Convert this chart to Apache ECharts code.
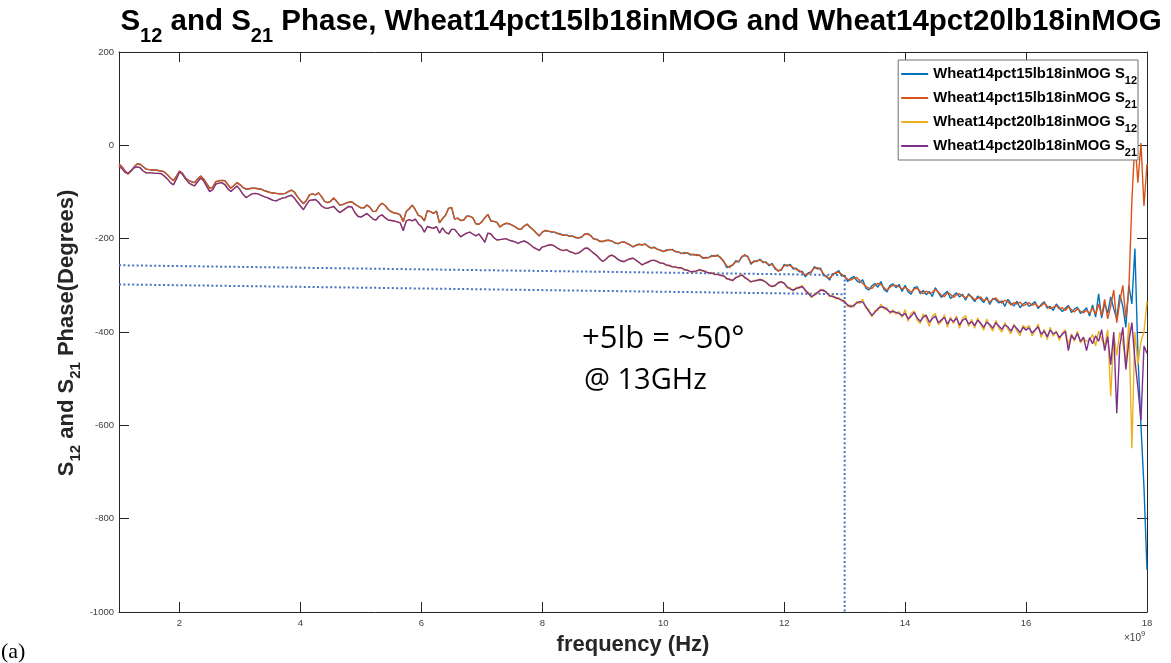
<!DOCTYPE html>
<html>
<head>
<meta charset="utf-8">
<script src="https://cdn.jsdelivr.net/npm/echarts@6/dist/echarts.min.js"></script>
<style>
  html, body { margin: 0; padding: 0; background: #fff; }
  #chart { width: 1171px; height: 663px; }
</style>
</head>
<body>
<div id="chart"></div>
<script>
// Sweep: 1 GHz to 18 GHz in 50 MHz steps (341 points)
const freqStartGHz = 1;
const freqStepGHz = 0.05;
const pointCount = 341;

// Phase (degrees), Wheat14pct15lb18inMOG, S12
const s12_15lb = [
  -40,-46,-55,-61,-55,-46,-40,-41,-46,-51,-52,-53,-53,-54,-55,-57,-63,-70,-75,-66,
  -55,-60,-70,-75,-78,-80,-72,-66,-72,-82,-91,-90,-78,-76,-75,-76,-84,-92,-86,-80,
  -84,-90,-94,-93,-92,-92,-93,-94,-97,-99,-101,-102,-103,-104,-104,-103,-99,-96,-100,-110,
  -118,-124,-118,-106,-104,-106,-102,-110,-120,-123,-120,-113,-120,-128,-127,-124,-122,-121,-126,-130,
  -134,-134,-128,-133,-142,-141,-130,-124,-129,-137,-142,-145,-146,-149,-163,-142,-136,-128,-138,-150,
  -153,-162,-140,-142,-146,-141,-166,-157,-150,-135,-133,-158,-156,-161,-160,-152,-152,-155,-168,-169,
  -164,-155,-148,-162,-163,-165,-175,-170,-167,-168,-171,-175,-179,-180,-173,-169,-176,-181,-188,-194,
  -186,-183,-184,-186,-186,-189,-190,-193,-192,-195,-194,-198,-198,-197,-190,-190,-193,-201,-201,-206,
  -206,-204,-204,-205,-209,-211,-208,-207,-210,-213,-218,-214,-212,-214,-211,-217,-220,-218,-223,-224,
  -228,-224,-224,-223,-228,-228,-232,-230,-231,-235,-233,-236,-235,-242,-240,-241,-236,-238,-235,-242,
  -248,-262,-259,-257,-247,-250,-238,-236,-238,-255,-248,-249,-244,-251,-250,-258,-253,-265,-268,-268,
  -255,-259,-255,-265,-263,-271,-270,-282,-273,-272,-260,-265,-263,-279,-280,-289,-275,-275,-268,-280,
  -279,-292,-285,-281,-290,-294,-288,-306,-310,-301,-296,-304,-292,-309,-314,-300,-297,-305,-298,-313,
  -300,-314,-319,-305,-303,-318,-311,-320,-313,-324,-305,-316,-326,-318,-313,-328,-322,-316,-325,-319,
  -332,-318,-326,-335,-323,-330,-337,-325,-341,-328,-331,-338,-333,-345,-330,-339,-344,-334,-348,-340,
  -336,-345,-340,-335,-350,-341,-335,-349,-345,-354,-340,-348,-356,-349,-343,-358,-351,-347,-360,-355,
  -348,-366,-342,-368,-318,-370,-338,-360,-325,-350,-372,-320,-345,-390,-300,-340,-221,-450,-600,-732,
  -910
];

// Phase (degrees), Wheat14pct15lb18inMOG, S21
const s21_15lb = [
  -40,-46,-55,-62,-55,-46,-40,-40,-46,-51,-52,-53,-53,-54,-55,-57,-63,-70,-76,-66,
  -55,-60,-70,-75,-78,-80,-72,-66,-72,-82,-92,-90,-78,-76,-75,-76,-84,-92,-86,-80,
  -84,-90,-94,-93,-92,-92,-93,-94,-97,-99,-101,-102,-103,-104,-104,-103,-99,-96,-100,-110,
  -118,-125,-118,-106,-104,-106,-102,-110,-120,-123,-120,-113,-120,-128,-127,-124,-122,-121,-126,-130,
  -134,-134,-128,-133,-142,-141,-130,-124,-129,-137,-142,-145,-146,-149,-164,-142,-136,-128,-138,-150,
  -153,-162,-140,-142,-146,-141,-166,-157,-150,-135,-133,-158,-156,-161,-160,-152,-152,-155,-168,-169,
  -164,-155,-148,-162,-163,-165,-175,-170,-167,-168,-171,-174,-179,-180,-173,-169,-175,-181,-188,-194,
  -186,-182,-184,-185,-186,-188,-191,-192,-193,-194,-195,-197,-199,-196,-191,-189,-194,-200,-202,-205,
  -206,-204,-203,-205,-209,-210,-208,-207,-210,-214,-217,-215,-212,-213,-212,-216,-220,-219,-222,-225,
  -227,-226,-223,-224,-227,-229,-231,-232,-230,-233,-235,-234,-236,-240,-242,-240,-238,-236,-237,-240,
  -250,-258,-262,-255,-250,-248,-240,-234,-240,-252,-250,-247,-246,-249,-252,-255,-256,-262,-270,-266,
  -258,-256,-258,-262,-266,-268,-273,-278,-276,-270,-263,-262,-266,-275,-283,-285,-278,-272,-272,-276,
  -282,-287,-289,-285,-283,-290,-296,-302,-306,-307,-300,-296,-298,-305,-310,-304,-300,-300,-303,-308,
  -304,-309,-315,-308,-306,-313,-318,-312,-317,-315,-309,-314,-321,-324,-316,-319,-326,-320,-318,-323,
  -327,-321,-324,-331,-328,-325,-333,-329,-336,-330,-327,-334,-338,-332,-335,-342,-337,-340,-336,-344,
  -341,-337,-343,-339,-346,-344,-338,-345,-350,-347,-343,-351,-348,-354,-346,-352,-357,-350,-355,-359,
  -353,-360,-348,-362,-340,-365,-330,-372,-345,-310,-380,-335,-300,-370,-310,-120,10,-80,5,-130,
  -40
];

// Phase (degrees), Wheat14pct20lb18inMOG, S12
const s12_20lb = [
  -44,-50,-58,-61,-54,-48,-46,-48,-55,-59,-59,-59,-60,-60,-61,-66,-72,-80,-84,-72,
  -57,-62,-72,-80,-84,-87,-78,-70,-76,-88,-98,-95,-83,-81,-80,-84,-93,-99,-93,-87,
  -95,-105,-112,-108,-104,-103,-104,-107,-110,-112,-115,-118,-119,-116,-113,-112,-109,-107,-113,-122,
  -130,-137,-127,-118,-117,-116,-122,-130,-134,-135,-133,-131,-138,-144,-140,-135,-131,-132,-144,-152,
  -154,-150,-146,-152,-158,-160,-152,-149,-155,-160,-161,-162,-164,-166,-182,-162,-159,-162,-158,-168,
  -174,-186,-174,-176,-178,-174,-188,-177,-186,-190,-180,-180,-188,-196,-192,-188,-186,-190,-194,-190,
  -198,-207,-188,-190,-198,-203,-202,-201,-200,-203,-205,-207,-210,-207,-205,-208,-212,-219,-221,-226,
  -217,-217,-213,-214,-215,-221,-223,-226,-223,-228,-229,-233,-230,-227,-220,-221,-225,-232,-235,-244,
  -248,-245,-237,-236,-238,-245,-247,-250,-245,-244,-241,-247,-250,-257,-252,-251,-246,-247,-248,-253,
  -252,-258,-256,-262,-259,-264,-261,-268,-266,-272,-269,-271,-265,-270,-269,-275,-272,-278,-275,-280,
  -278,-287,-286,-291,-282,-282,-276,-285,-286,-294,-289,-291,-286,-291,-292,-301,-301,-302,-293,-294,
  -294,-306,-305,-313,-304,-307,-300,-313,-315,-327,-318,-318,-308,-313,-313,-325,-321,-329,-326,-334,
  -332,-346,-342,-347,-334,-339,-330,-349,-352,-368,-354,-354,-340,-351,-348,-361,-352,-362,-356,-369,
  -352,-377,-360,-355,-375,-382,-361,-370,-388,-366,-360,-384,-378,-363,-390,-368,-382,-366,-392,-370,
  -365,-388,-373,-392,-370,-384,-396,-372,-388,-398,-375,-392,-400,-380,-394,-404,-383,-398,-408,-386,
  -392,-386,-408,-397,-383,-412,-394,-416,-390,-409,-398,-418,-402,-395,-428,-404,-420,-398,-424,-414,
  -420,-418,-405,-430,-398,-415,-430,-395,-538,-405,-450,-400,-420,-470,-380,-649,-400,-470,-420,-400,
  -335
];

// Phase (degrees), Wheat14pct20lb18inMOG, S21
const s21_20lb = [
  -44,-50,-58,-60,-54,-48,-46,-48,-55,-59,-59,-59,-60,-60,-61,-66,-72,-80,-85,-72,
  -57,-62,-72,-80,-84,-87,-78,-70,-76,-88,-99,-95,-83,-81,-80,-84,-93,-99,-93,-87,
  -95,-105,-112,-108,-104,-103,-104,-107,-110,-112,-115,-118,-119,-116,-113,-112,-109,-107,-113,-122,
  -130,-138,-127,-118,-117,-116,-122,-130,-134,-135,-133,-131,-138,-144,-140,-135,-131,-132,-144,-152,
  -154,-150,-146,-152,-158,-160,-152,-149,-155,-160,-161,-162,-164,-166,-183,-162,-159,-162,-158,-168,
  -174,-186,-174,-176,-178,-174,-188,-177,-186,-190,-180,-180,-188,-196,-192,-188,-186,-190,-194,-190,
  -198,-208,-188,-190,-198,-203,-202,-201,-200,-203,-205,-207,-210,-207,-205,-208,-213,-218,-222,-225,
  -218,-216,-214,-213,-216,-220,-224,-225,-224,-227,-230,-232,-231,-226,-221,-220,-226,-231,-236,-243,
  -249,-244,-238,-235,-239,-244,-248,-249,-246,-243,-242,-246,-251,-256,-253,-250,-247,-246,-249,-252,
  -253,-256,-258,-260,-261,-262,-263,-266,-268,-270,-271,-269,-267,-268,-271,-273,-274,-276,-277,-278,
  -280,-285,-288,-289,-284,-280,-278,-283,-288,-292,-291,-289,-288,-289,-294,-299,-303,-300,-295,-292,
  -296,-303,-308,-310,-307,-304,-303,-310,-318,-324,-321,-315,-311,-310,-316,-322,-324,-326,-329,-331,
  -336,-342,-346,-343,-338,-335,-336,-345,-356,-364,-358,-350,-346,-347,-352,-357,-356,-358,-360,-365,
  -360,-372,-366,-358,-370,-377,-368,-364,-379,-371,-366,-380,-374,-369,-383,-372,-378,-370,-385,-375,
  -371,-383,-378,-386,-375,-381,-390,-379,-384,-392,-380,-387,-394,-385,-389,-398,-386,-393,-401,-390,
  -396,-391,-402,-395,-389,-405,-398,-410,-396,-404,-400,-412,-405,-399,-440,-407,-416,-403,-420,-411,
  -440,-412,-425,-408,-420,-395,-440,-410,-470,-400,-574,-430,-390,-480,-420,-380,-460,-520,-589,-430,
  -446
];

// Dotted guide lines marking the phase shift at 13 GHz: [GHz, degrees]
const guide15lb = [[1, -257], [13, -278]];
const guide20lb = [[1, -298], [13, -319]];
const guide13GHz = [[13, -278], [13, -1000]];

const xTicks = [2, 4, 6, 8, 10, 12, 14, 16, 18];

const seriesNames = [
  'Wheat14pct15lb18inMOG S12',
  'Wheat14pct15lb18inMOG S21',
  'Wheat14pct20lb18inMOG S12',
  'Wheat14pct20lb18inMOG S21'
];
const seriesColors = ['#0072BD', '#D95319', '#EDB120', '#7E2F8E'];
const seriesValues = [s12_15lb, s21_15lb, s12_20lb, s21_20lb];

const freqGHz = [];
for (let i = 0; i < pointCount; i++) {
  freqGHz.push(+(freqStartGHz + freqStepGHz * i).toFixed(2));
}

const FONT = '"Liberation Sans", Arial, sans-serif';
const axisColor = '#262626';

function guideSeries(data) {
  return {
    type: 'line',
    data: data,
    symbol: 'none',
    silent: true,
    z: 1,
    lineStyle: { color: '#4472C4', width: 2, type: [2, 2.4] },
    animation: false
  };
}

const chart = echarts.init(document.getElementById('chart'), null, { renderer: 'canvas' });

const option = {
  backgroundColor: '#fff',
  animation: false,
  grid: { left: 119, right: 24, top: 52, bottom: 51, containLabel: false },
  legend: {
    data: seriesNames,
    orient: 'vertical',
    right: 33,
    top: 60,
    backgroundColor: '#fff',
    borderColor: '#707070',
    borderWidth: 1,
    borderRadius: 0,
    padding: [2, 1, 2, 3],
    itemGap: 0,
    itemWidth: 27,
    itemHeight: 2,
    icon: 'rect',
    z: 10,
    formatter: function (name) {
      const parts = name.split(' S');
      return '{n|' + parts[0] + ' S}{s|' + parts[1] + '}';
    },
    textStyle: {
      padding: [0, 0, 0, 0],
      rich: {
        n: { fontFamily: FONT, fontWeight: 'bold', fontSize: 14.8, color: '#000', lineHeight: 18 },
        s: { fontFamily: FONT, fontWeight: 'bold', fontSize: 11, color: '#000', lineHeight: 12, padding: [13, 0, 0, 0] }
      }
    }
  },
  xAxis: [
    {
      type: 'value', min: 1, max: 18, position: 'bottom',
      axisLine: { show: true, onZero: false, lineStyle: { color: axisColor, width: 1 } },
      axisTick: { show: true, inside: true, length: 10, customValues: xTicks, lineStyle: { color: axisColor } },
      axisLabel: { show: true, customValues: xTicks, margin: 6, fontFamily: FONT, fontSize: 9.5, color: '#404040' },
      splitLine: { show: false }
    },
    {
      type: 'value', min: 1, max: 18, position: 'top',
      axisLine: { show: true, onZero: false, lineStyle: { color: axisColor, width: 1 } },
      axisTick: { show: true, inside: true, length: 10, customValues: xTicks, lineStyle: { color: axisColor } },
      axisLabel: { show: false, customValues: xTicks },
      splitLine: { show: false }
    }
  ],
  yAxis: [
    {
      type: 'value', min: -1000, max: 200, interval: 200, position: 'left',
      axisLine: { show: true, onZero: false, lineStyle: { color: axisColor, width: 1 } },
      axisTick: { show: true, inside: true, length: 10, lineStyle: { color: axisColor } },
      axisLabel: {
        show: true, margin: 5, fontFamily: FONT, fontSize: 9.5, color: '#404040',
        formatter: function (v) { return String(v); }
      },
      splitLine: { show: false }
    },
    {
      type: 'value', min: -1000, max: 200, interval: 200, position: 'right',
      axisLine: { show: true, onZero: false, lineStyle: { color: axisColor, width: 1 } },
      axisTick: { show: true, inside: true, length: 10, lineStyle: { color: axisColor } },
      axisLabel: { show: false },
      splitLine: { show: false }
    }
  ],
  series: [
    guideSeries(guide15lb),
    guideSeries(guide20lb),
    guideSeries(guide13GHz)
  ].concat(seriesNames.map(function (name, k) {
    return {
      name: name,
      type: 'line',
      data: freqGHz.map(function (f, i) { return [f, seriesValues[k][i]]; }),
      symbol: 'none',
      showSymbol: false,
      sampling: null,
      z: 2 + k,
      color: seriesColors[k],
      lineStyle: { color: seriesColors[k], width: 1.4 },
      itemStyle: { color: seriesColors[k] }
    };
  })),
  graphic: [
    {
      type: 'text', x: 641, y: 22,
      style: {
        text: '{b|S}{s|12}{b| and S}{s|21}{b| Phase, Wheat14pct15lb18inMOG and Wheat14pct20lb18inMOG}',
        align: 'center', verticalAlign: 'middle',
        rich: {
          b: { fontFamily: FONT, fontWeight: 'bold', fontSize: 29.5, fill: '#000', lineHeight: 34 },
          s: { fontFamily: FONT, fontWeight: 'bold', fontSize: 20, fill: '#000', lineHeight: 22, padding: [28, 0, 0, 0] }
        }
      }
    },
    {
      type: 'text', x: 67, y: 333, rotation: Math.PI / 2,
      style: {
        text: '{b|S}{s|12}{b| and S}{s|21}{b| Phase(Degrees)}',
        align: 'center', verticalAlign: 'middle',
        rich: {
          b: { fontFamily: FONT, fontWeight: 'bold', fontSize: 22, fill: '#262626', lineHeight: 26 },
          s: { fontFamily: FONT, fontWeight: 'bold', fontSize: 15, fill: '#262626', lineHeight: 17, padding: [17, 0, 0, 0] }
        }
      }
    },
    {
      type: 'text', x: 633, y: 645,
      style: {
        text: 'frequency (Hz)', align: 'center', verticalAlign: 'middle',
        font: 'bold 22px ' + FONT, fill: '#262626'
      }
    },
    {
      type: 'text', x: 1124, y: 638,
      style: {
        text: '{a|×10}{p|9}', align: 'left', verticalAlign: 'middle',
        rich: {
          a: { fontFamily: FONT, fontSize: 10, fill: '#404040', lineHeight: 12 },
          p: { fontFamily: FONT, fontSize: 7.5, fill: '#404040', lineHeight: 9, padding: [0, 0, 9, 0] }
        }
      }
    },
    {
      type: 'text', x: 1, y: 652,
      style: {
        text: '(a)', align: 'left', verticalAlign: 'middle',
        font: '22px "Liberation Serif", "Times New Roman", serif', fill: '#000'
      }
    },
    {
      type: 'text', x: 582, y: 339,
      style: {
        text: '+5lb = ~50°', align: 'left', verticalAlign: 'middle',
        font: '31px "Open Sans", sans-serif', fill: '#000'
      }
    },
    {
      type: 'text', x: 584, y: 381,
      style: {
        text: '@ 13GHz', align: 'left', verticalAlign: 'middle',
        font: '29px "Open Sans", sans-serif', fill: '#000'
      }
    }
  ]
};

chart.setOption(option);
</script>
</body>
</html>
